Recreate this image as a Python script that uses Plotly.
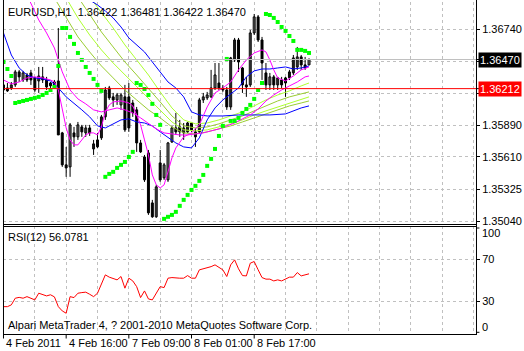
import plotly.graph_objects as go

W, H = 524, 351
ML, MR, MT, MB = 3, 38, 2, 17
PW, PH = W - ML - MR, H - MT - MB

def px(x):
    return (x - ML) / PW

def py(y):
    return (H - MB - y) / PH

FONT = "Liberation Sans Narrow, Liberation Sans, Arial, sans-serif"

# ---------------- data ----------------
bars = list(range(79))
opens = [1.36245,1.36218,1.36218,1.36245,1.36360,1.36289,1.36333,1.36351,1.36307,1.36280,
         1.36316,1.36289,1.36236,1.36271,1.36280,1.35820,1.35537,1.35519,1.35820,1.35785,
         1.35873,1.35820,1.35864,1.35678,1.35696,1.35776,1.35962,1.36218,1.36139,1.36112,
         1.36068,1.36139,1.36139,1.36085,1.36024,1.35731,1.35404,1.35643,1.35200,1.35077,
         1.35554,1.35422,1.35404,1.35740,1.35864,1.35873,1.35820,1.35829,1.35908,1.35829,
         1.35829,1.36112,1.36130,1.36139,1.36218,1.36262,1.36218,1.36200,1.36050,1.36466,
         1.36643,1.36395,1.36245,1.36245,1.36705,1.36847,1.36643,1.36351,1.36245,1.36316,
         1.36245,1.36289,1.36262,1.36307,1.36351,1.36404,1.36493,1.36422,1.36422]
highs = [1.36289,1.36262,1.36271,1.36378,1.36378,1.36369,1.36351,1.36378,1.36316,1.36404,
         1.36404,1.36316,1.36271,1.36289,1.36749,1.35829,1.35696,1.35908,1.35873,1.35917,
         1.35891,1.35891,1.35891,1.35758,1.35820,1.35979,1.36227,1.36236,1.36174,1.36174,
         1.36174,1.36245,1.36262,1.36112,1.36050,1.35758,1.35625,1.35669,1.35227,1.35360,
         1.35669,1.35554,1.35740,1.35882,1.35997,1.35935,1.35908,1.35917,1.35917,1.35864,
         1.36130,1.36174,1.36183,1.36378,1.36439,1.36439,1.36245,1.36227,1.36493,1.36661,
         1.36661,1.36404,1.36316,1.36732,1.36873,1.36864,1.36670,1.36439,1.36351,1.36333,
         1.36316,1.36316,1.36316,1.36378,1.36510,1.36581,1.36510,1.36493,1.36481]
lows = [1.36183,1.36183,1.36200,1.36227,1.36271,1.36271,1.36271,1.36245,1.36183,1.36174,
        1.36262,1.36200,1.36218,1.36209,1.35802,1.35519,1.35431,1.35431,1.35696,1.35758,
        1.35785,1.35785,1.35793,1.35625,1.35687,1.35758,1.35935,1.36112,1.36050,1.36068,
        1.36024,1.35829,1.35829,1.35962,1.35652,1.35643,1.35386,1.35094,1.35068,1.35068,
        1.35386,1.35404,1.35386,1.35731,1.35802,1.35785,1.35758,1.35820,1.35829,1.35696,
        1.35820,1.36085,1.36112,1.36130,1.36200,1.36200,1.36183,1.36024,1.36024,1.36448,
        1.36360,1.36174,1.36139,1.36227,1.36687,1.36625,1.36289,1.36200,1.36200,1.36200,
        1.36200,1.36218,1.36139,1.36289,1.36333,1.36378,1.36378,1.36378,1.36422]
closes = [1.36200,1.36192,1.36245,1.36360,1.36316,1.36351,1.36289,1.36289,1.36200,1.36324,
          1.36289,1.36227,1.36262,1.36236,1.35802,1.35537,1.35510,1.35891,1.35785,1.35891,
          1.35829,1.35864,1.35820,1.35723,1.35758,1.35962,1.36200,1.36130,1.36112,1.36156,
          1.36156,1.35847,1.35864,1.35997,1.35731,1.35652,1.35607,1.35112,1.35077,1.35342,
          1.35404,1.35537,1.35731,1.35864,1.35829,1.35829,1.35864,1.35908,1.35847,1.35785,
          1.36112,1.36139,1.36156,1.36218,1.36333,1.36218,1.36200,1.36050,1.36484,1.36643,
          1.36448,1.36245,1.36227,1.36705,1.36847,1.36643,1.36439,1.36245,1.36316,1.36245,
          1.36307,1.36245,1.36307,1.36360,1.36484,1.36493,1.36422,1.36395,1.36470]

sar = [1.36448,1.36386,1.36324,
       1.36085,1.36094,1.36103,1.36112,1.36121,1.36130,1.36139,1.36156,1.36174,1.36200,1.36227,
       1.36413,
       1.36749,1.36749,1.36670,1.36608,1.36528,1.36466,1.36404,1.36351,1.36298,1.36245,1.36192,
       1.35431,1.35457,1.35475,1.35510,1.35537,1.35563,1.35607,1.35652,
       1.36262,1.36245,1.36209,1.36156,1.36077,1.35979,1.35891,
       1.35059,1.35077,1.35094,1.35121,1.35174,1.35227,1.35271,1.35315,1.35351,1.35395,1.35448,
       1.35528,1.35590,1.35678,1.35793,1.35882,
       1.36475,
       1.35926,1.35926,1.35953,1.35997,1.36032,1.36068,1.36121,1.36200,1.36262,
       1.36873,1.36864,1.36838,1.36802,1.36758,1.36723,1.36678,1.36634,1.36555,1.36555,1.36546,1.36528]

fast_blue_x = [0,2,4,6,8,10,12,14,16,18,20,22,24,26,28,30,32,34,36,38,40,42,44,46,48,50,52,54,56,58,60,62,64,66,68,70,72,74,76,78]
fast_blue = [1.36705,1.36510,1.36395,1.36333,1.36307,1.36298,1.36280,1.36218,1.36139,1.36085,
             1.36024,1.35962,1.35882,1.35864,1.35900,1.35935,1.35944,1.35917,1.35908,1.35882,
             1.35829,1.35776,1.35731,1.35696,1.35687,1.35776,1.35935,1.36041,1.36112,1.36165,
             1.36218,1.36316,1.36369,1.36386,1.36386,1.36395,1.36404,1.36386,1.36395,1.36413]

slow_blue_x = [20,22,24,26,28,30,32,34,36,38,40,42,44,46,48,50,52,56,60,64,68,72,74,76,78]
slow_blue = [1.37068,1.36997,1.36953,1.36900,1.36838,1.36758,1.36661,1.36599,1.36537,1.36448,
             1.36360,1.36271,1.36218,1.36139,1.36006,1.35979,1.35970,1.35970,1.35979,1.35979,
             1.35979,1.35988,1.36015,1.36041,1.36059]

fast_mag_x = [0,2,4,6,8,10,12,13,14,15,16,17,18,19,20,21,22,23,24,25,26,27,28,30,32,33,34,35,36,37,
              38,39,40,41,42,43,44,46,48,50,52,54,56,58,60,62,64,66,67,68,69,70,72,74,76,78]
fast_mag = [1.36289,1.36254,1.36271,1.36307,1.36316,1.36307,1.36289,1.36271,1.36200,1.36024,
            1.35864,1.35758,1.35714,1.35714,1.35758,1.35802,1.35820,1.35820,1.35802,1.35873,
            1.36006,1.36068,1.36094,1.36103,1.36085,1.36059,1.35979,1.35891,1.35758,1.35625,
            1.35448,1.35360,1.35333,1.35360,1.35475,1.35599,1.35687,1.35785,1.35820,1.35891,
            1.36050,1.36174,1.36218,1.36271,1.36378,1.36466,1.36528,1.36555,1.36537,1.36466,
            1.36378,1.36307,1.36280,1.36324,1.36378,1.36404]

slow_mag_x = [6,7,9,11,13,15,17,19,21,23,25,27,29,31,33,35,37,39,41,43,45,47,49,51,53,55,57,59,
              61,63,65,67,69,71,73,75,77,78]
slow_mag = [1.37041,1.36970,1.36820,1.36705,1.36572,1.36360,1.36200,1.36121,1.36077,1.36024,
            1.36006,1.36024,1.36041,1.36024,1.35997,1.35953,1.35900,1.35855,1.35820,1.35811,
            1.35802,1.35802,1.35811,1.35820,1.35838,1.35855,1.35882,1.35908,1.35944,1.35979,
            1.36032,1.36103,1.36156,1.36200,1.36236,1.36271,1.36316,1.36324]

env_a_x = [13,16,19,22,25,28,31,34,37,40,43,46,49,52,55,58,61,64,67,70,73,76,78]
env_a = [1.37015,1.36838,1.36670,1.36537,1.36413,1.36307,1.36200,1.36112,1.36024,1.35953,
         1.35873,1.35820,1.35811,1.35829,1.35855,1.35882,1.35917,1.35953,1.35988,1.36024,
         1.36059,1.36085,1.36103]
env_b_x = [16,19,22,25,28,31,34,37,40,43,46,49,52,55,58,61,64,67,70,73,76,78]
env_b = [1.37015,1.36838,1.36687,1.36555,1.36439,1.36333,1.36227,1.36130,1.36024,1.35917,
         1.35847,1.35838,1.35847,1.35873,1.35900,1.35935,1.35979,1.36015,1.36050,1.36085,
         1.36121,1.36139]
env_c_x = [19,22,25,28,31,34,37,40,43,46,49,52,55,58,61,64,67,70,73,76,78]
env_c = [1.37024,1.36864,1.36714,1.36581,1.36448,1.36333,1.36218,1.36094,1.35970,1.35882,
         1.35864,1.35873,1.35900,1.35935,1.35970,1.36015,1.36059,1.36103,1.36139,1.36165,
         1.36183]
env_d_x = [22,25,28,31,34,37,40,43,46,49,52,55,58,61,64,67,70,73,76,78]
env_d = [1.37024,1.36891,1.36749,1.36599,1.36466,1.36333,1.36183,1.36041,1.35935,1.35900,
         1.35908,1.35935,1.35970,1.36006,1.36059,1.36112,1.36156,1.36192,1.36236,1.36262]

rsi = [24.6,24.6,26.3,32.7,33.5,32.7,34.2,32.7,31.1,37.5,35.9,34.9,36.0,34.0,24.6,20.5,18.3,
       34.2,33.3,37.5,38.1,38.5,36.5,34.2,37.5,45.5,55.1,52.9,51.9,50.3,53.5,42.3,51.9,49.3,
       43.8,33.3,39.7,32.0,31.1,37.5,43.8,42.9,51.9,52.5,51.9,51.9,51.9,54.4,51.9,51.9,59.9,
       60.9,61.5,63.0,64.7,62.1,59.9,53.5,64.7,69.5,60.9,54.4,54.1,66.3,67.9,60.0,52.5,51.0,
       51.0,49.3,50.3,49.3,51.0,52.9,52.9,57.3,54.1,55.1,56.1]

price_grid = [1.35040, 1.353233, 1.356067, 1.35890, 1.361733, 1.364567, 1.36740]
price_grid_text = ["1.35040", "1.35325", "1.35610", "1.35890", "", "", "1.36740"]
bid_level = 1.36470
hline_level = 1.36212
rsi_levels = [30, 70]
time_ticks = [0, 16, 32, 48, 64]
time_labels = ["4 Feb 2011", "4 Feb 16:00", "7 Feb 09:00", "8 Feb 01:00", "8 Feb 17:00"]
title_text = "EURUSD,H1  1.36422 1.36481 1.36422 1.36470"
rsi_text = "RSI(12) 56.0781"
copy_text = "Alpari MetaTrader 4, ? 2001-2010 MetaQuotes Software Corp."

# ---------------- figure ----------------
fig = go.Figure()

wx, wy = [], []
for k, h, l in zip(bars, highs, lows):
    wx += [k, k, None]
    wy += [l, h, None]
fig.add_trace(go.Scatter(x=wx, y=wy, mode="lines", line=dict(color="black", width=1),
                         hoverinfo="skip", xaxis="x", yaxis="y"))

bx_up, bb_up, bh_up, bx_dn, bb_dn, bh_dn = [], [], [], [], [], []
for k, o, c in zip(bars, opens, closes):
    if c >= o:
        bx_up.append(k); bb_up.append(o); bh_up.append(max(c - o, 0.00002))
    else:
        bx_dn.append(k); bb_dn.append(c); bh_dn.append(o - c)
fig.add_trace(go.Bar(x=bx_up, y=bh_up, base=bb_up, width=0.5,
                     marker=dict(color="white", line=dict(color="black", width=1)),
                     xaxis="x", yaxis="y"))
fig.add_trace(go.Bar(x=bx_dn, y=bh_dn, base=bb_dn, width=0.5,
                     marker=dict(color="black", line=dict(color="black", width=1)),
                     xaxis="x", yaxis="y"))

def line(xs, ys, color):
    fig.add_trace(go.Scatter(x=xs, y=ys, mode="lines", line=dict(color=color, width=1),
                             hoverinfo="skip", xaxis="x", yaxis="y"))

line(env_a_x, env_a, "#9ACD32")
line(env_b_x, env_b, "#ADFF2F")
line(env_c_x, env_c, "#9ACD32")
line(env_d_x, env_d, "#ADFF2F")
line(slow_blue_x, slow_blue, "#0000FF")
line(fast_blue_x, fast_blue, "#0000FF")
line(slow_mag_x, slow_mag, "#FF00FF")
line(fast_mag_x, fast_mag, "#FF00FF")

fig.add_trace(go.Scatter(x=bars, y=sar, mode="markers",
                         marker=dict(symbol="square", size=4, color="#00FF00"),
                         hoverinfo="skip", xaxis="x", yaxis="y"))

fig.add_trace(go.Scatter(x=bars, y=rsi, mode="lines", line=dict(color="#FF0000", width=1),
                         hoverinfo="skip", xaxis="x2", yaxis="y2"))

grid = dict(showgrid=True, gridcolor="#C0C0C0", griddash="3px,3px", gridwidth=1)
xr = [-0.125, 120.625]

fig.update_layout(
    width=W, height=H, margin=dict(l=ML, r=MR, t=MT, b=MB),
    paper_bgcolor="white", plot_bgcolor="white", showlegend=False, barmode="overlay",
    font=dict(family=FONT, size=11, color="black"),
    xaxis=dict(range=xr, domain=[0, 1], anchor="y", tickvals=list(range(8, 121, 8)),
               showticklabels=False, ticks="", zeroline=False, **grid),
    yaxis=dict(range=[1.350134, 1.369791], domain=[py(224), 1], anchor="x", side="right",
               tickvals=price_grid, ticktext=price_grid_text, ticks="outside", ticklen=3,
               tickcolor="black", zeroline=False,
               tickfont=dict(family=FONT, size=11, color="black"), **grid),
    xaxis2=dict(range=xr, domain=[0, 1], anchor="y2", tickvals=list(range(0, 121, 8)),
                showticklabels=False, ticks="", zeroline=False, **grid),
    yaxis2=dict(range=[-1.63, 101.97], domain=[0, py(226)], anchor="x2", side="right",
                tickvals=rsi_levels, ticktext=[str(v) for v in rsi_levels], ticks="outside",
                ticklen=3, tickcolor="black", zeroline=False,
                tickfont=dict(family=FONT, size=11, color="black"), **grid),
)

shapes = []
shapes.append(dict(type="line", xref="paper", yref="y", x0=0, x1=1, y0=bid_level, y1=bid_level,
                   line=dict(color="#C0C0C0", width=1)))
shapes.append(dict(type="line", xref="paper", yref="y", x0=0, x1=1, y0=hline_level, y1=hline_level,
                   line=dict(color="#FF0000", width=1)))
for x0 in (3.5, 486.5):
    shapes.append(dict(type="line", xref="paper", yref="paper", x0=px(x0), x1=px(x0),
                       y0=py(334.5), y1=py(-2), line=dict(color="black", width=1)))
for y0 in (224.5, 226.5, 334.5):
    shapes.append(dict(type="line", xref="paper", yref="paper", x0=px(3), x1=px(487),
                       y0=py(y0), y1=py(y0), line=dict(color="black", width=1)))
for t in time_ticks:
    xp = px(3.5 + 4 * t)
    shapes.append(dict(type="line", xref="paper", yref="paper", x0=xp, x1=xp,
                       y0=py(334.5), y1=py(338.5), line=dict(color="black", width=1)))
for yy in (228.0, 332.3):
    shapes.append(dict(type="line", xref="paper", yref="paper", x0=px(486.5), x1=px(489.5),
                       y0=py(yy), y1=py(yy), line=dict(color="black", width=1)))
for lvl in (bid_level, hline_level):
    shapes.append(dict(type="line", xref="paper", yref="y", x0=px(486.5), x1=px(489.5),
                       y0=lvl, y1=lvl, line=dict(color="black", width=1)))
fig.update_layout(shapes=shapes)

ann = []
def text(x, y, s, **kw):
    d = dict(xref="paper", yref="paper", x=px(x), y=py(y), text=s, showarrow=False,
             xanchor="left", yanchor="middle", font=dict(family=FONT, size=11, color="black"))
    d.update(kw)
    ann.append(d)

text(6, 12, title_text)
text(6, 237, rsi_text)
text(6, 325, copy_text)
for t, lab in zip(time_ticks, time_labels):
    text(3.5 + 4 * t + 1, 343, lab)
text(490, 233, "100")
text(490, 327, "0")
for lvl, lab, col in ((bid_level, "1.36470", "black"), (hline_level, "1.36212", "#FF0000")):
    ann.append(dict(xref="paper", yref="y", x=px(488), y=lvl, text=lab, showarrow=False,
                    xanchor="left", yanchor="middle", bgcolor=col, borderpad=1,
                    font=dict(family=FONT, size=11, color="white")))
fig.update_layout(annotations=ann)

fig.write_html("out.html")
